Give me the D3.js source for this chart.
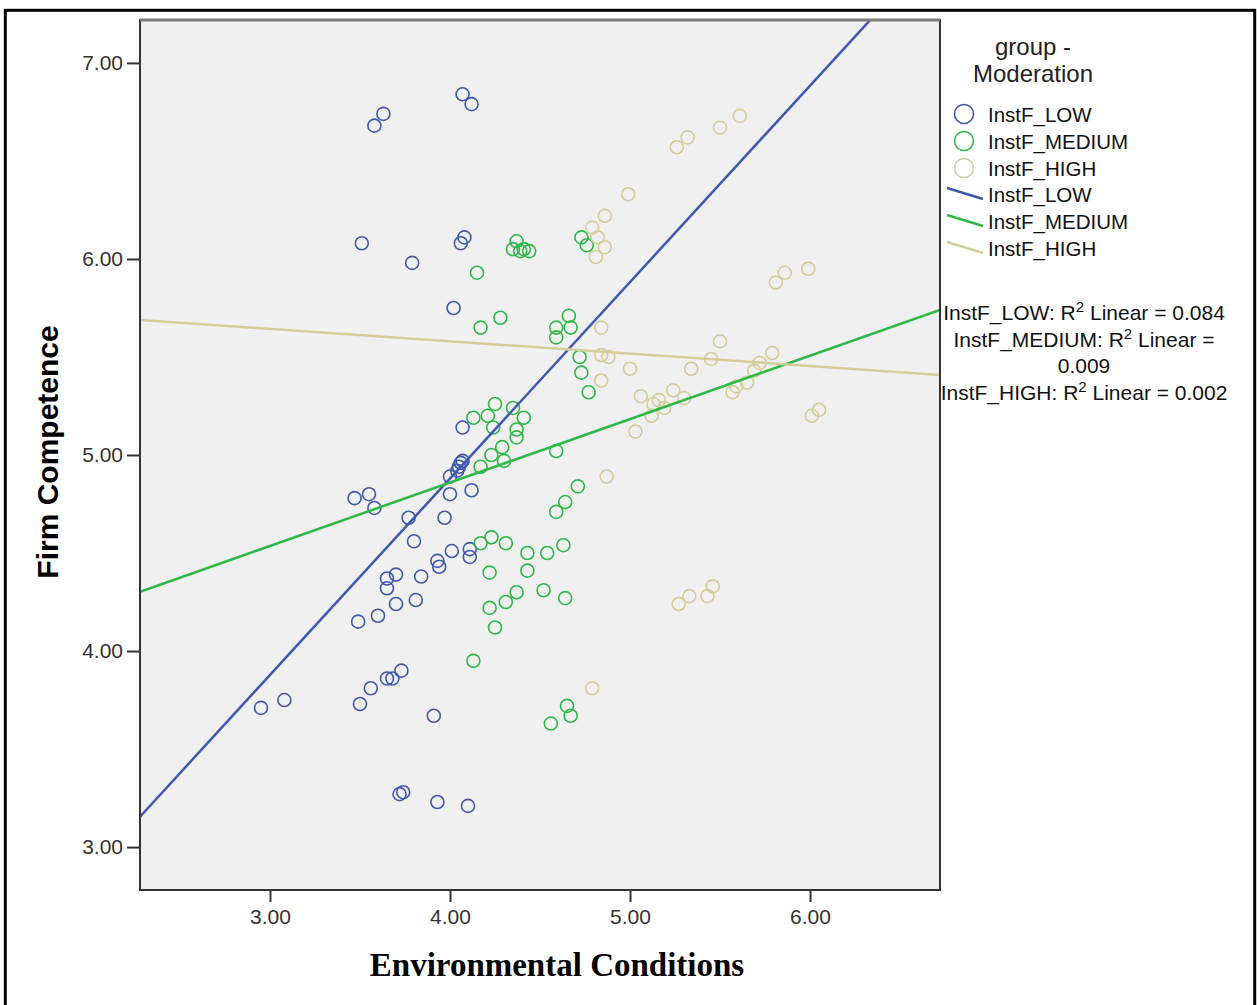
<!DOCTYPE html>
<html>
<head>
<meta charset="utf-8">
<script src="https://cdn.jsdelivr.net/npm/d3@7"></script>
<style>
  body { margin: 0; background: #fff; }
  text { font-family: "Liberation Sans", Arial, sans-serif; }
</style>
</head>
<body>
<div id="chart"></div>
<script>
// group names + colours
var groups = ["InstF_LOW", "InstF_MEDIUM", "InstF_HIGH"];
var colors = ["#3e58ac", "#2eb848", "#d3ce97"];

// points (x = Environmental Conditions, y = Firm Competence)
var lowX = [3.58, 3.63, 3.51, 3.79, 4.07, 4.12, 4.08, 4.06, 4.02, 4.07, 4.06, 4.00, 4.04, 4.07, 4.05, 4.00, 4.12,
            3.77, 3.97, 3.80, 4.01, 4.11, 4.11, 3.93, 3.94, 3.84, 3.81, 3.47, 3.55, 3.58, 3.65, 3.70, 3.65, 3.70,
            3.49, 3.60, 2.95, 3.08, 3.50, 3.56, 3.65, 3.68, 3.73, 3.72, 3.74, 3.91, 3.93, 4.10];
var lowY = [6.68, 6.74, 6.08, 5.98, 6.84, 6.79, 6.11, 6.08, 5.75, 5.14, 4.96, 4.89, 4.92, 4.97, 4.94, 4.80, 4.82,
            4.68, 4.68, 4.56, 4.51, 4.52, 4.48, 4.46, 4.43, 4.38, 4.26, 4.78, 4.80, 4.73, 4.37, 4.39, 4.32, 4.24,
            4.15, 4.18, 3.71, 3.75, 3.73, 3.81, 3.86, 3.86, 3.90, 3.27, 3.28, 3.67, 3.23, 3.21];

var medX = [4.73, 4.76, 4.37, 4.35, 4.41, 4.44, 4.39, 4.15, 4.17, 4.28, 4.59, 4.66, 4.67, 4.59, 4.72, 4.73, 4.77,
            4.25, 4.13, 4.21, 4.35, 4.41, 4.24, 4.37, 4.37, 4.29, 4.23, 4.30, 4.17, 4.59, 4.71, 4.64, 4.59, 4.17,
            4.23, 4.31, 4.43, 4.54, 4.63, 4.22, 4.43, 4.37, 4.52, 4.64, 4.31, 4.22, 4.25, 4.13, 4.65, 4.67, 4.56];
var medY = [6.11, 6.07, 6.09, 6.05, 6.05, 6.04, 6.04, 5.93, 5.65, 5.70, 5.65, 5.71, 5.65, 5.60, 5.50, 5.42, 5.32,
            5.26, 5.19, 5.20, 5.24, 5.19, 5.14, 5.13, 5.09, 5.04, 5.00, 4.97, 4.94, 5.02, 4.84, 4.76, 4.71, 4.55,
            4.58, 4.55, 4.50, 4.50, 4.54, 4.40, 4.41, 4.30, 4.31, 4.27, 4.25, 4.22, 4.12, 3.95, 3.72, 3.67, 3.63];

var highX = [5.26, 5.32, 5.50, 5.61, 4.99, 4.86, 4.79, 4.82, 4.86, 4.81, 4.84, 5.50, 4.84, 4.88, 4.84, 5.00, 5.34,
             5.45, 5.06, 5.13, 5.16, 5.24, 5.30, 5.12, 5.19, 5.03, 5.57, 5.59, 5.65, 5.69, 5.72, 5.79, 5.81, 5.86,
             5.99, 6.01, 6.05, 4.87, 5.27, 5.33, 5.43, 5.46, 4.79];
var highY = [6.57, 6.62, 6.67, 6.73, 6.33, 6.22, 6.16, 6.11, 6.06, 6.01, 5.65, 5.58, 5.51, 5.50, 5.38, 5.44, 5.44,
             5.49, 5.30, 5.26, 5.28, 5.33, 5.29, 5.20, 5.24, 5.12, 5.32, 5.35, 5.37, 5.43, 5.47, 5.52, 5.88, 5.93,
             5.95, 5.20, 5.23, 4.89, 4.24, 4.28, 4.28, 4.33, 3.81];

// fit lines as drawn (intercept, slope) and R2 labels
var intercepts = [0.872, 3.565, 5.833];
var slopes = [1.002, 0.3236, -0.0632];
var r2Lines = [["InstF_LOW: R", " Linear = 0.084"], ["InstF_MEDIUM: R", " Linear ="], ["0.009", ""], ["InstF_HIGH: R", " Linear = 0.002"]];

var xTicks = [3, 4, 5, 6];
var yTicks = [3, 4, 5, 6, 7];

var W = 1257, H = 1005;
var plot = {left: 140, top: 20, right: 940, bottom: 890};

var svg = d3.select("#chart")
  .append("svg")
    .attr("width", W)
    .attr("height", H);

// outer border
svg.append("rect")
  .attr("x", 5.3).attr("y", 10.3)
  .attr("width", 1249.4).attr("height", 997)
  .attr("fill", "none").attr("stroke", "#000").attr("stroke-width", 3);

var x = d3.scaleLinear().domain([2.278, 6.722]).range([plot.left, plot.right]);
var y = d3.scaleLinear().domain([2.781, 7.219]).range([plot.bottom, plot.top]);

svg.append("rect")
  .attr("x", plot.left).attr("y", plot.top)
  .attr("width", plot.right - plot.left).attr("height", plot.bottom - plot.top)
  .attr("fill", "#f0f0f0");

svg.append("clipPath").attr("id", "clip")
  .append("rect")
  .attr("x", plot.left).attr("y", plot.top)
  .attr("width", plot.right - plot.left).attr("height", plot.bottom - plot.top);

// axes
var xAxis = svg.append("g")
  .attr("transform", "translate(0," + plot.bottom + ")")
  .call(d3.axisBottom(x).tickValues(xTicks).tickFormat(d3.format(".2f")).tickSize(12).tickPadding(7));

var yAxis = svg.append("g")
  .attr("transform", "translate(" + plot.left + ",0)")
  .call(d3.axisLeft(y).tickValues(yTicks).tickFormat(d3.format(".2f")).tickSize(13).tickPadding(4));

[xAxis, yAxis].forEach(function(g) {
  g.select(".domain").remove();
  g.selectAll(".tick line").attr("stroke", "#333").attr("stroke-width", 2);
  g.selectAll(".tick text")
    .attr("fill", "#333")
    .style("font-size", "21px")
    .style("font-family", "'Liberation Sans', Arial, sans-serif");
});

// points
var pts = svg.append("g").attr("clip-path", "url(#clip)");
var series = [[lowX, lowY], [medX, medY], [highX, highY]];
series.forEach(function(s, i) {
  pts.selectAll(null)
    .data(d3.range(s[0].length))
    .enter()
    .append("circle")
      .attr("cx", function(j) { return x(s[0][j]); })
      .attr("cy", function(j) { return y(s[1][j]); })
      .attr("r", 6.5)
      .attr("fill", "none")
      .attr("stroke", colors[i])
      .attr("stroke-width", 1.6);
});

// fit lines
var dom = x.domain();
groups.forEach(function(g, i) {
  pts.append("line")
    .attr("x1", x(dom[0])).attr("y1", y(intercepts[i] + slopes[i] * dom[0]))
    .attr("x2", x(dom[1])).attr("y2", y(intercepts[i] + slopes[i] * dom[1]))
    .attr("stroke", colors[i])
    .attr("stroke-width", 2.5);
});

// frame (top edge is lighter in spss output)
svg.append("rect")
  .attr("x", plot.left).attr("y", plot.top)
  .attr("width", plot.right - plot.left).attr("height", plot.bottom - plot.top)
  .attr("fill", "none").attr("stroke", "#333").attr("stroke-width", 2);
svg.append("line")
  .attr("x1", plot.left).attr("x2", plot.right)
  .attr("y1", plot.top).attr("y2", plot.top)
  .attr("stroke", "#7a7a7a").attr("stroke-width", 3);

// axis titles
svg.append("text")
  .attr("x", 557).attr("y", 976)
  .attr("text-anchor", "middle")
  .style("font-family", "'Liberation Serif', 'Times New Roman', serif")
  .style("font-weight", "bold")
  .style("font-size", "33px")
  .text("Environmental Conditions");

svg.append("text")
  .attr("transform", "translate(58,452) rotate(-90)")
  .attr("text-anchor", "middle")
  .style("font-weight", "bold")
  .style("font-size", "30px")
  .text("Firm Competence");

// legend
var leg = svg.append("g");
leg.append("text").attr("x", 1033).attr("y", 55).attr("text-anchor", "middle")
  .style("font-size", "24px").attr("fill", "#222").text("group -");
leg.append("text").attr("x", 1033).attr("y", 82).attr("text-anchor", "middle")
  .style("font-size", "24px").attr("fill", "#222").text("Moderation");

groups.forEach(function(g, i) {
  var rowY = 122 + i * 27;
  leg.append("circle")
    .attr("cx", 964).attr("cy", rowY - 8).attr("r", 9.5)
    .attr("fill", "none").attr("stroke", colors[i]).attr("stroke-width", 1.6);
  leg.append("text").attr("x", 988).attr("y", rowY)
    .style("font-size", "20.5px").attr("fill", "#111").text(g);
});
groups.forEach(function(g, i) {
  var rowY = 202 + i * 27;
  leg.append("line")
    .attr("x1", 947).attr("y1", rowY - 14)
    .attr("x2", 983).attr("y2", rowY - 3)
    .attr("stroke", colors[i]).attr("stroke-width", 2.5);
  leg.append("text").attr("x", 988).attr("y", rowY)
    .style("font-size", "20.5px").attr("fill", "#111").text(g);
});

// R2 labels
r2Lines.forEach(function(l, i) {
  var t = leg.append("text").attr("x", 1084).attr("y", 320 + i * 26.7)
    .attr("text-anchor", "middle").style("font-size", "21px").attr("fill", "#111");
  t.append("tspan").text(l[0]);
  if (l[1] !== "") {
    t.append("tspan").attr("dy", -8).style("font-size", "15px").text("2");
    t.append("tspan").attr("dy", 8).text(l[1]);
  }
});
</script>
</body>
</html>
